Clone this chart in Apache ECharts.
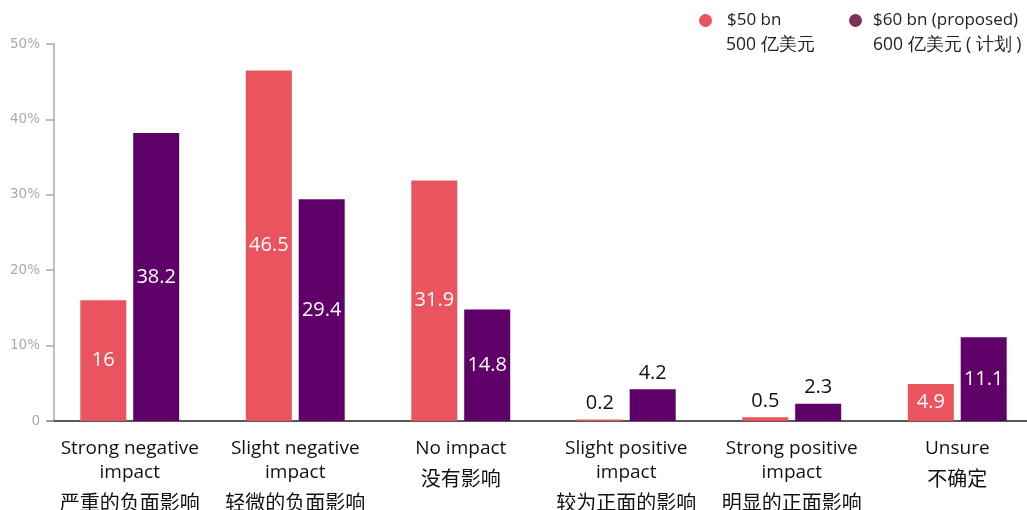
<!DOCTYPE html>
<html>
<head>
<meta charset="utf-8">
<script src="https://cdn.jsdelivr.net/npm/echarts@6/dist/echarts.min.js"></script>
<style>
  html, body { margin: 0; padding: 0; background: #fff; }
  #chart { width: 1027px; height: 510px; }
</style>
</head>
<body>
<div id="chart"></div>
<script>
// Survey responses: expected impact of US tariffs (% of respondents)
const categoriesEn = [
  ['Strong negative', 'impact'],
  ['Slight negative', 'impact'],
  ['No impact'],
  ['Slight positive', 'impact'],
  ['Strong positive', 'impact'],
  ['Unsure']
];
const categoriesZh = ['严重的负面影响', '轻微的负面影响', '没有影响', '较为正面的影响', '明显的正面影响', '不确定'];
const seriesNames = ['$50 bn', '$60 bn (proposed)'];
const seriesNamesZh = ['500 亿美元', '600 亿美元 ( 计划 )'];
const values50 = [16, 46.5, 31.9, 0.2, 0.5, 4.9];
const values60 = [38.2, 29.4, 14.8, 4.2, 2.3, 11.1];
const yTicks = [0, 10, 20, 30, 40, 50];

const RED = '#E9545E';
const PURPLE = '#5F0068';
const PURPLE_LEGEND = '#7D3259';
const FONT = '"Open Sans", "Noto Sans", sans-serif';
const CJK = '"Noto Sans CJK SC", sans-serif';

const categoryKeys = categoriesEn.map((_, i) => 'c' + i);

function labelledData(values) {
  return values.map(v => {
    const inside = v >= 4.5;
    return {
      value: v,
      label: inside
        ? { position: 'inside', color: '#fff' }
        : { position: 'top', color: '#111', distance: 6 }
    };
  });
}

const chart = echarts.init(document.getElementById('chart'), null, { renderer: 'canvas' });

chart.setOption({
  animation: false,
  backgroundColor: '#fff',
  grid: { left: 47, top: 44, width: 993, height: 377, containLabel: false, outerBoundsMode: 'none' },
  legend: [
    {
      left: 699, top: 12, padding: 0, itemWidth: 13, itemHeight: 13, icon: 'circle',
      selectedMode: false,
      data: [{ name: seriesNames[0], itemStyle: { color: RED } }],
      textStyle: { fontFamily: FONT, fontSize: 17, color: '#222', padding: [0, 0, 0, 10] }
    },
    {
      left: 849, top: 12, padding: 0, itemWidth: 13, itemHeight: 13, icon: 'circle',
      selectedMode: false,
      data: [{ name: seriesNames[1], itemStyle: { color: PURPLE_LEGEND } }],
      textStyle: { fontFamily: FONT, fontSize: 17, color: '#222', padding: [0, 0, 0, 6] }
    }
  ],
  graphic: [
    { type: 'text', left: 726, top: 36, style: { text: seriesNamesZh[0], font: '17.5px ' + FONT, fill: '#222' } },
    { type: 'text', left: 873, top: 36, style: { text: seriesNamesZh[1], font: '17.5px ' + FONT, fill: '#222' } }
  ],
  xAxis: {
    type: 'category',
    data: categoryKeys,
    axisLine: { lineStyle: { color: '#222', width: 1.5 } },
    axisTick: { show: false },
    axisLabel: {
      interval: 0,
      margin: 16,
      formatter: function (value) {
        const i = categoryKeys.indexOf(value);
        const en = categoriesEn[i].map(s => '{en|' + s + '}').join('\n');
        return en + '\n{zh|' + categoriesZh[i] + '}';
      },
      rich: {
        en: { fontFamily: FONT, fontSize: 19, lineHeight: 24, color: '#111' },
        zh: { fontFamily: CJK, fontSize: 20, lineHeight: 34, color: '#111' }
      }
    }
  },
  yAxis: {
    type: 'value',
    min: yTicks[0],
    max: yTicks[yTicks.length - 1],
    interval: 10,
    offset: -7,
    axisLine: { show: true, lineStyle: { color: '#aaa', width: 1.5 } },
    axisTick: { show: true, length: 8, lineStyle: { color: '#aaa', width: 1.5 } },
    splitLine: { show: false },
    axisLabel: {
      margin: 14,
      color: '#aaa',
      fontFamily: '"DejaVu Sans", sans-serif',
      fontSize: 13.5,
      formatter: v => (v === 0 ? '0' : v + '%')
    }
  },
  series: [
    {
      name: seriesNames[0],
      type: 'bar',
      barWidth: 46,
      barGap: '15%',
      itemStyle: { color: RED },
      label: { show: true, fontFamily: FONT, fontSize: 20 },
      data: labelledData(values50)
    },
    {
      name: seriesNames[1],
      type: 'bar',
      barWidth: 46,
      barGap: '15%',
      itemStyle: { color: PURPLE },
      label: { show: true, fontFamily: FONT, fontSize: 20 },
      data: labelledData(values60)
    }
  ]
});
</script>
</body>
</html>
